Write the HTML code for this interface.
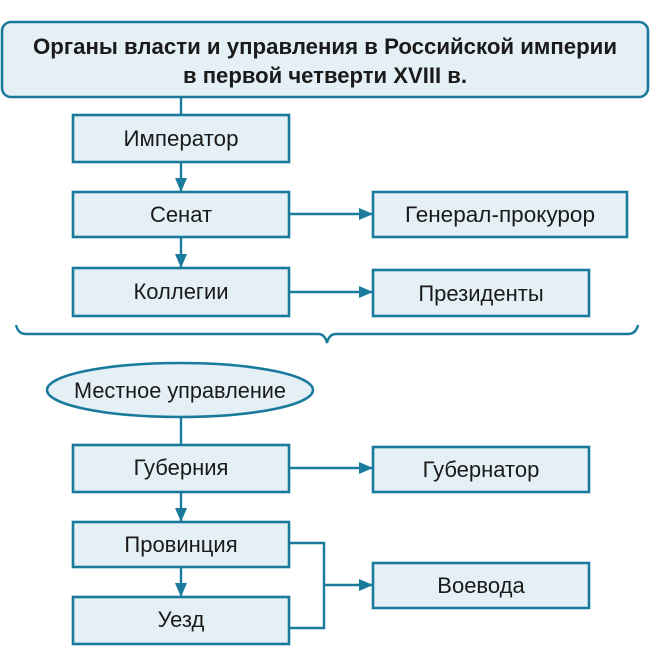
<!DOCTYPE html>
<html><head><meta charset="utf-8"><style>
html,body{margin:0;padding:0;background:#fff;}
svg{display:block;}
text{font-family:"Liberation Sans",sans-serif;fill:#1a1a1a;}
</style></head><body>
<svg width="650" height="666" viewBox="0 0 650 666" xmlns="http://www.w3.org/2000/svg">
<defs>
<marker id="a" markerWidth="14" markerHeight="12" refX="13" refY="6" orient="auto" markerUnits="userSpaceOnUse">
<path d="M0,0 L14,6 L0,12 z" fill="#1a7a9c"/>
</marker>
</defs>
<g stroke="#1a7a9c" stroke-width="2.6" fill="#e4eff6">
<rect x="2" y="22" width="646" height="75" rx="9"/>
<rect x="73" y="115" width="216" height="47"/>
<rect x="73" y="192" width="216" height="45"/>
<rect x="373" y="192" width="254" height="45"/>
<rect x="73" y="268" width="216" height="48"/>
<rect x="373" y="270" width="216" height="46"/>
<ellipse cx="180" cy="390" rx="133" ry="27"/>
<rect x="73" y="445" width="216" height="47"/>
<rect x="373" y="447" width="216" height="45"/>
<rect x="73" y="522" width="216" height="45"/>
<rect x="73" y="597" width="216" height="47"/>
<rect x="373" y="563" width="216" height="45"/>
</g>
<g stroke="#1a7a9c" stroke-width="2.4" fill="none">
<line x1="181" y1="97" x2="181" y2="115"/>
<line x1="181" y1="162" x2="181" y2="191" marker-end="url(#a)"/>
<line x1="181" y1="237" x2="181" y2="267" marker-end="url(#a)"/>
<line x1="289" y1="214" x2="372" y2="214" marker-end="url(#a)"/>
<line x1="289" y1="292" x2="372" y2="292" marker-end="url(#a)"/>
<path d="M16,325 Q18,334 26,334 L318,334 Q325,334 327,343 Q329,334 336,334 L628,334 Q636,334 638,325"/>
<line x1="181" y1="417" x2="181" y2="445"/>
<line x1="289" y1="468" x2="372" y2="468" marker-end="url(#a)"/>
<line x1="181" y1="492" x2="181" y2="521" marker-end="url(#a)"/>
<line x1="181" y1="567" x2="181" y2="596" marker-end="url(#a)"/>
<path d="M289,543 L324,543 L324,628 L289,628"/>
<line x1="324" y1="585" x2="372" y2="585" marker-end="url(#a)"/>
</g>
<g font-size="22" font-weight="bold" text-anchor="middle">
<text x="325" y="54" textLength="584" lengthAdjust="spacingAndGlyphs">Органы власти и управления в Российской империи</text>
<text x="325" y="83" textLength="284" lengthAdjust="spacingAndGlyphs">в первой четверти XVIII в.</text>
</g>
<g font-size="22" text-anchor="middle">
<text x="181" y="146" textLength="115" lengthAdjust="spacingAndGlyphs">Император</text>
<text x="181" y="222">Сенат</text>
<text x="500" y="222" textLength="190" lengthAdjust="spacingAndGlyphs">Генерал-прокурор</text>
<text x="181" y="299">Коллегии</text>
<text x="481" y="301">Президенты</text>
<text x="180" y="398" textLength="212" lengthAdjust="spacingAndGlyphs">Местное управление</text>
<text x="181" y="475">Губерния</text>
<text x="481" y="477">Губернатор</text>
<text x="181" y="552">Провинция</text>
<text x="181" y="627">Уезд</text>
<text x="481" y="593">Воевода</text>
</g>
</svg>
</body></html>
